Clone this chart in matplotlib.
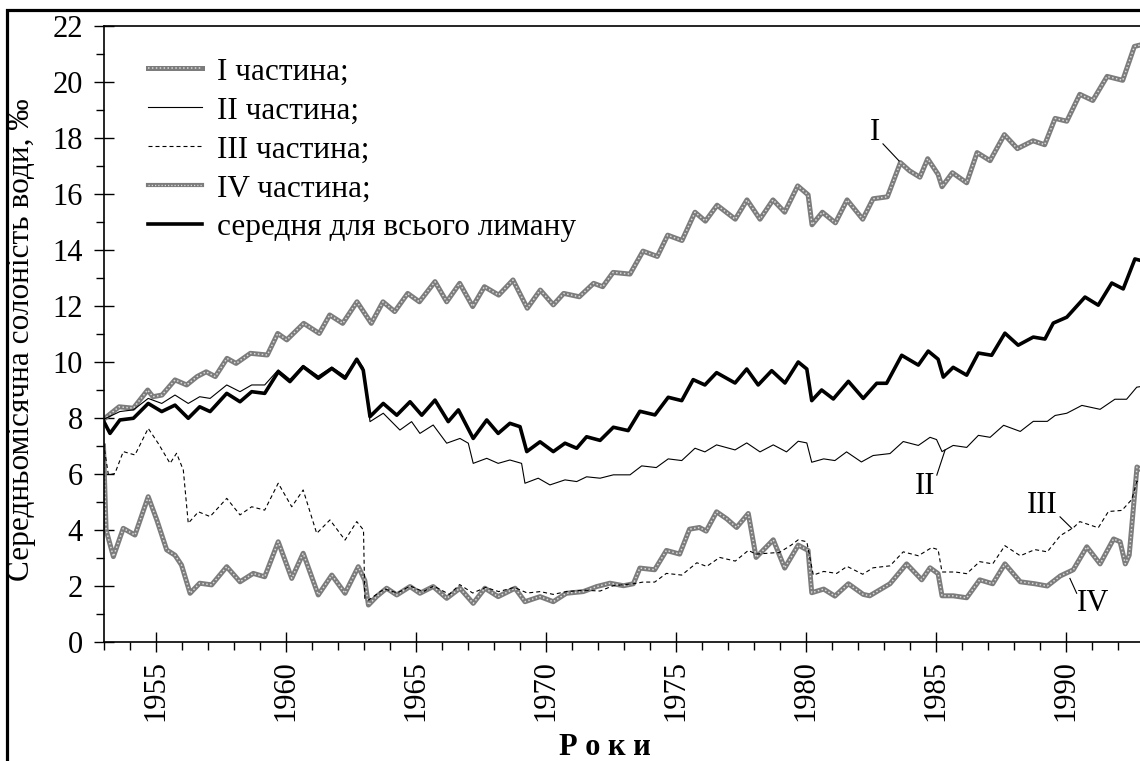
import matplotlib
matplotlib.use('Agg')
import matplotlib.pyplot as plt
from matplotlib.lines import Line2D
from matplotlib.patches import Rectangle
from matplotlib.ticker import MultipleLocator

plt.rcParams['font.family'] = ['Liberation Serif', 'DejaVu Serif']

# (рік, солоність ‰) для кожної частини лиману
part_1 = [(1953.0, 7.95), (1953.6, 8.4), (1954.15, 8.35), (1954.7, 9.0), (1954.9, 8.76),
          (1955.25, 8.82), (1955.75, 9.36), (1956.2, 9.18), (1956.6, 9.48), (1956.95, 9.65),
          (1957.3, 9.48), (1957.75, 10.13), (1958.1, 9.95), (1958.65, 10.31), (1959.3, 10.25),
          (1959.7, 11.02), (1960.05, 10.79), (1960.7, 11.38), (1961.3, 11.02), (1961.7, 11.68),
          (1962.2, 11.38), (1962.75, 12.15), (1963.3, 11.38), (1963.75, 12.15), (1964.2, 11.8),
          (1964.7, 12.45), (1965.15, 12.15), (1965.75, 12.87), (1966.2, 12.15), (1966.7, 12.81),
          (1967.2, 11.98), (1967.65, 12.69), (1968.2, 12.39), (1968.75, 12.93), (1969.3, 11.92),
          (1969.8, 12.57), (1970.3, 12.04), (1970.7, 12.45), (1971.3, 12.33), (1971.85, 12.81),
          (1972.2, 12.69), (1972.6, 13.2), (1973.25, 13.14), (1973.75, 13.96), (1974.3, 13.77),
          (1974.7, 14.53), (1975.25, 14.34), (1975.75, 15.35), (1976.15, 15.03), (1976.6, 15.6),
          (1977.3, 15.1), (1977.75, 15.79), (1978.25, 15.1), (1978.75, 15.79), (1979.2, 15.35),
          (1979.7, 16.29), (1980.1, 15.97), (1980.25, 14.9), (1980.65, 15.35), (1981.15, 14.97),
          (1981.6, 15.79), (1982.2, 15.1), (1982.6, 15.83), (1983.15, 15.9), (1983.65, 17.12),
          (1984.0, 16.83), (1984.4, 16.6), (1984.7, 17.26), (1985.1, 16.7), (1985.25, 16.26),
          (1985.65, 16.76), (1986.2, 16.4), (1986.6, 17.48), (1987.1, 17.19), (1987.65, 18.12),
          (1988.15, 17.62), (1988.75, 17.9), (1989.2, 17.76), (1989.6, 18.7), (1990.05, 18.6),
          (1990.55, 19.56), (1991.05, 19.34), (1991.6, 20.2), (1992.2, 20.06), (1992.65, 21.27),
          (1993.0, 21.35)]

part_2 = [(1953.0, 7.95), (1953.63, 8.23), (1954.15, 8.29), (1954.72, 8.7), (1955.24, 8.52),
          (1955.75, 8.82), (1956.26, 8.52), (1956.7, 8.76), (1957.1, 8.7), (1957.74, 9.18),
          (1958.25, 8.94), (1958.7, 9.18), (1959.2, 9.18), (1959.72, 9.72), (1960.17, 9.38),
          (1960.68, 9.88), (1961.26, 9.5), (1961.78, 9.82), (1962.29, 9.5), (1962.74, 10.12),
          (1962.99, 9.8), (1963.25, 7.87), (1963.76, 8.17), (1964.4, 7.57), (1964.85, 7.87),
          (1965.17, 7.45), (1965.68, 7.75), (1966.2, 7.1), (1966.71, 7.27), (1967.03, 7.1),
          (1967.22, 6.38), (1967.74, 6.56), (1968.18, 6.38), (1968.63, 6.5), (1969.08, 6.38),
          (1969.21, 5.67), (1969.72, 5.85), (1970.17, 5.61), (1970.75, 5.79), (1971.2, 5.73),
          (1971.58, 5.9), (1972.1, 5.85), (1972.61, 5.97), (1973.25, 5.97), (1973.7, 6.29),
          (1974.26, 6.23), (1974.72, 6.54), (1975.24, 6.48), (1975.75, 6.92), (1976.13, 6.79),
          (1976.58, 7.04), (1977.29, 6.86), (1977.74, 7.11), (1978.25, 6.79), (1978.76, 7.04),
          (1979.27, 6.79), (1979.72, 7.17), (1980.05, 7.11), (1980.24, 6.42), (1980.7, 6.54),
          (1981.13, 6.48), (1981.58, 6.79), (1982.15, 6.43), (1982.6, 6.66), (1983.25, 6.73),
          (1983.76, 7.16), (1984.34, 7.02), (1984.79, 7.31), (1985.04, 7.23), (1985.25, 6.8),
          (1985.68, 7.02), (1986.2, 6.95), (1986.65, 7.38), (1987.1, 7.31), (1987.62, 7.74),
          (1988.26, 7.52), (1988.76, 7.88), (1989.3, 7.88), (1989.6, 8.09), (1990.05, 8.17),
          (1990.63, 8.45), (1991.33, 8.31), (1991.9, 8.67), (1992.35, 8.67), (1992.74, 9.1),
          (1993.0, 9.14)]

part_3 = [(1953.0, 7.1), (1953.19, 5.96), (1953.44, 6.02), (1953.76, 6.8), (1954.21, 6.68),
          (1954.72, 7.63), (1955.1, 7.1), (1955.56, 6.38), (1955.81, 6.74), (1956.07, 6.14),
          (1956.26, 4.24), (1956.65, 4.65), (1957.1, 4.48), (1957.74, 5.13), (1958.25, 4.54),
          (1958.7, 4.83), (1959.2, 4.71), (1959.72, 5.67), (1960.24, 4.83), (1960.68, 5.43),
          (1961.2, 3.88), (1961.71, 4.36), (1962.29, 3.64), (1962.74, 4.3), (1963.0, 4.0),
          (1963.05, 1.56), (1963.2, 1.5), (1963.8, 1.9), (1964.3, 1.75), (1964.8, 2.0),
          (1965.3, 1.8), (1965.7, 2.0), (1966.3, 1.7), (1966.7, 2.05), (1967.2, 1.75),
          (1967.7, 1.95), (1968.2, 1.8), (1968.8, 1.95), (1969.3, 1.75), (1969.8, 1.8),
          (1970.3, 1.7), (1970.8, 1.8), (1971.5, 1.85), (1972.1, 1.82), (1972.6, 2.01),
          (1973.38, 2.08), (1973.75, 2.14), (1974.2, 2.14), (1974.65, 2.45), (1975.24, 2.39),
          (1975.82, 2.83), (1976.2, 2.7), (1976.7, 3.02), (1977.3, 2.89), (1977.8, 3.27),
          (1978.1, 3.14), (1979.0, 3.2), (1979.45, 3.46), (1979.72, 3.65), (1980.05, 3.58),
          (1980.3, 2.39), (1980.7, 2.52), (1981.2, 2.45), (1981.6, 2.7), (1982.2, 2.42),
          (1982.6, 2.65), (1983.25, 2.72), (1983.76, 3.22), (1984.34, 3.08), (1984.85, 3.37),
          (1985.1, 3.3), (1985.25, 2.5), (1985.76, 2.5), (1986.2, 2.44), (1986.7, 2.87),
          (1987.2, 2.79), (1987.67, 3.44), (1988.26, 3.08), (1988.82, 3.3), (1989.3, 3.22),
          (1989.8, 3.8), (1990.3, 4.08), (1990.55, 4.3), (1991.26, 4.08), (1991.65, 4.66),
          (1992.17, 4.7), (1992.55, 5.09), (1992.74, 5.73), (1993.0, 5.8)]

part_4 = [(1953.0, 7.0), (1953.1, 4.0), (1953.38, 3.05), (1953.76, 4.06), (1954.21, 3.82),
          (1954.72, 5.19), (1955.05, 4.36), (1955.43, 3.29), (1955.75, 3.1), (1956.0, 2.75),
          (1956.33, 1.74), (1956.7, 2.1), (1957.16, 2.04), (1957.74, 2.69), (1958.25, 2.15),
          (1958.76, 2.45), (1959.2, 2.33), (1959.72, 3.58), (1960.24, 2.27), (1960.68, 3.17),
          (1961.26, 1.68), (1961.78, 2.39), (1962.29, 1.74), (1962.8, 2.69), (1963.05, 2.2),
          (1963.19, 1.32), (1963.5, 1.62), (1963.89, 1.92), (1964.28, 1.68), (1964.79, 1.98),
          (1965.17, 1.74), (1965.68, 1.98), (1966.2, 1.56), (1966.71, 1.92), (1967.22, 1.38),
          (1967.67, 1.92), (1968.18, 1.62), (1968.83, 1.92), (1969.21, 1.44), (1969.79, 1.62),
          (1970.3, 1.44), (1970.8, 1.74), (1971.45, 1.8), (1971.97, 1.98), (1972.48, 2.1),
          (1973.0, 2.01), (1973.38, 2.08), (1973.63, 2.64), (1974.2, 2.58), (1974.65, 3.27),
          (1975.16, 3.14), (1975.54, 4.03), (1975.92, 4.09), (1976.18, 3.96), (1976.58, 4.65),
          (1976.97, 4.4), (1977.35, 4.09), (1977.8, 4.59), (1978.1, 3.02), (1978.76, 3.65),
          (1979.2, 2.64), (1979.72, 3.46), (1980.1, 3.27), (1980.24, 1.76), (1980.7, 1.89),
          (1981.13, 1.64), (1981.65, 2.08), (1982.22, 1.7), (1982.47, 1.65), (1983.25, 2.08),
          (1983.89, 2.79), (1984.47, 2.22), (1984.79, 2.65), (1985.1, 2.44), (1985.25, 1.65),
          (1985.68, 1.65), (1986.2, 1.58), (1986.7, 2.22), (1987.2, 2.08), (1987.67, 2.79),
          (1988.26, 2.15), (1988.82, 2.08), (1989.3, 2.0), (1989.8, 2.36), (1990.3, 2.58),
          (1990.82, 3.4), (1991.33, 2.79), (1991.85, 3.68), (1992.1, 3.58), (1992.3, 2.79),
          (1992.45, 3.1), (1992.75, 6.25), (1993.0, 6.1)]

mean_all = [(1953.0, 7.9), (1953.25, 7.45), (1953.63, 7.93), (1954.15, 7.99), (1954.72, 8.52),
            (1955.24, 8.23), (1955.75, 8.46), (1956.26, 7.99), (1956.7, 8.4), (1957.1, 8.23),
            (1957.74, 8.88), (1958.25, 8.58), (1958.7, 8.94), (1959.2, 8.88), (1959.72, 9.65),
            (1960.17, 9.3), (1960.68, 9.83), (1961.26, 9.42), (1961.78, 9.77), (1962.29, 9.42),
            (1962.74, 10.1), (1962.99, 9.71), (1963.25, 8.05), (1963.76, 8.52), (1964.28, 8.1),
            (1964.79, 8.58), (1965.24, 8.1), (1965.75, 8.64), (1966.26, 7.87), (1966.65, 8.29),
            (1967.22, 7.27), (1967.74, 7.93), (1968.18, 7.45), (1968.63, 7.81), (1969.02, 7.69),
            (1969.28, 6.8), (1969.79, 7.15), (1970.3, 6.8), (1970.75, 7.1), (1971.2, 6.92),
            (1971.58, 7.33), (1972.1, 7.2), (1972.61, 7.67), (1973.18, 7.55), (1973.63, 8.24),
            (1974.21, 8.11), (1974.72, 8.74), (1975.24, 8.62), (1975.68, 9.37), (1976.13, 9.18),
            (1976.58, 9.62), (1977.29, 9.25), (1977.74, 9.75), (1978.18, 9.18), (1978.7, 9.69),
            (1979.21, 9.25), (1979.72, 10.0), (1980.05, 9.75), (1980.24, 8.62), (1980.62, 9.0),
            (1981.07, 8.68), (1981.65, 9.31), (1982.22, 8.7), (1982.74, 9.24), (1983.12, 9.24),
            (1983.7, 10.24), (1984.34, 9.89), (1984.72, 10.39), (1985.1, 10.1), (1985.3, 9.46),
            (1985.68, 9.81), (1986.2, 9.53), (1986.65, 10.32), (1987.16, 10.24), (1987.67, 11.03),
            (1988.18, 10.6), (1988.76, 10.89), (1989.21, 10.82), (1989.53, 11.39), (1990.05, 11.6),
            (1990.75, 12.32), (1991.26, 12.03), (1991.78, 12.82), (1992.22, 12.61), (1992.67, 13.68),
            (1993.0, 13.6)]

labels = ['I частина;', 'II частина;', 'III частина;', 'IV частина;', 'середня для всього лиману']

# підписи кривих: текст, позиція тексту, виносна лінія
curve_tags = [('I', (1982.67, 18.18), [(1982.98, 17.79), (1983.6, 17.18)]),
              ('II', (1984.6, 5.57), [(1985.05, 5.96), (1985.37, 6.86)]),
              ('III', (1989.1, 4.89), [(1989.79, 4.47), (1990.24, 4.06)]),
              ('IV', (1991.06, 1.36), [(1990.17, 2.27), (1990.43, 1.74)])]

GREY = '#7c7c7c'
LIGHT = '#dcdcdc'


def unzip(pairs):
    return [p[0] for p in pairs], [p[1] for p in pairs]


def textured(ax, pairs, lw):
    x, y = unzip(pairs)
    ax.plot(x, y, color=GREY, lw=lw, solid_joinstyle='round', zorder=2)
    ax.plot(x, y, color=LIGHT, lw=lw * 0.3, ls=(0, (1.0, 1.6)), zorder=2.1)


fig = plt.figure(figsize=(11.4, 7.61), dpi=100)
ax = fig.add_axes([103.5 / 1140, 119 / 761, 1040 / 1140, 616 / 761])

textured(ax, part_1, 3.6)
x, y = unzip(part_2)
ax.plot(x, y, color='black', lw=0.8, zorder=3)
x, y = unzip(part_3)
ax.plot(x, y, color='black', lw=0.8, ls=(0, (3.6, 2.7)), zorder=3)
textured(ax, part_4, 3.6)
x, y = unzip(mean_all)
ax.plot(x, y, color='black', lw=2.6, zorder=4)

for txt, pos, line in curve_tags:
    ax.text(pos[0], pos[1], txt, fontsize=22, ha='center', va='center')
    lx, ly = unzip(line)
    ax.plot(lx, ly, color='black', lw=0.8)

ax.set_xlim(1953, 1993)
ax.set_ylim(0, 22)
ax.xaxis.set_major_locator(MultipleLocator(5))
ax.xaxis.set_minor_locator(MultipleLocator(1))
ax.yaxis.set_major_locator(MultipleLocator(2))
ax.yaxis.set_minor_locator(MultipleLocator(1))
ax.tick_params(which='major', direction='inout', length=14, width=1, labelsize=22)
ax.tick_params(which='minor', direction='out', length=6, width=1)
ax.tick_params(axis='x', which='major', pad=6, labelrotation=90)
ax.tick_params(axis='y', which='major', pad=8)
for s in ax.spines.values():
    s.set_linewidth(1.2)

ax.set_ylabel('Середньомісячна солоність води, ‰', fontsize=22.5)
ax.yaxis.set_label_coords(-0.065, 0.49)
ax.set_xlabel('Р о к и', fontsize=22, fontweight='bold', va='baseline')
ax.xaxis.set_label_coords(0.482, -0.184)

# легенда: текстуровані лінії як пари (сіра основа + світлий пунктир)
def tex_handle(lw):
    return (Line2D([], [], color=GREY, lw=lw),
            Line2D([], [], color=LIGHT, lw=lw * 0.3, ls=(0, (1.0, 1.6))))

handles = [tex_handle(3.6),
           Line2D([], [], color='black', lw=0.8),
           Line2D([], [], color='black', lw=0.8, ls=(0, (3.6, 2.7))),
           tex_handle(3.0),
           Line2D([], [], color='black', lw=2.6)]
ax.legend(handles, labels, loc='upper left', bbox_to_anchor=(0.043, 0.949),
          frameon=False, fontsize=22.5, handlelength=1.73, handletextpad=0.48,
          labelspacing=0.32, borderpad=0, borderaxespad=0)

# рамка навколо рисунка
fig.add_artist(Rectangle((6.5 / 1140, -0.1), 1.2, (761 - 9.5) / 761 + 0.1,
                         transform=fig.transFigure, fill=False, lw=2.3, ec='black'))

fig.savefig('out.png', dpi=100)
